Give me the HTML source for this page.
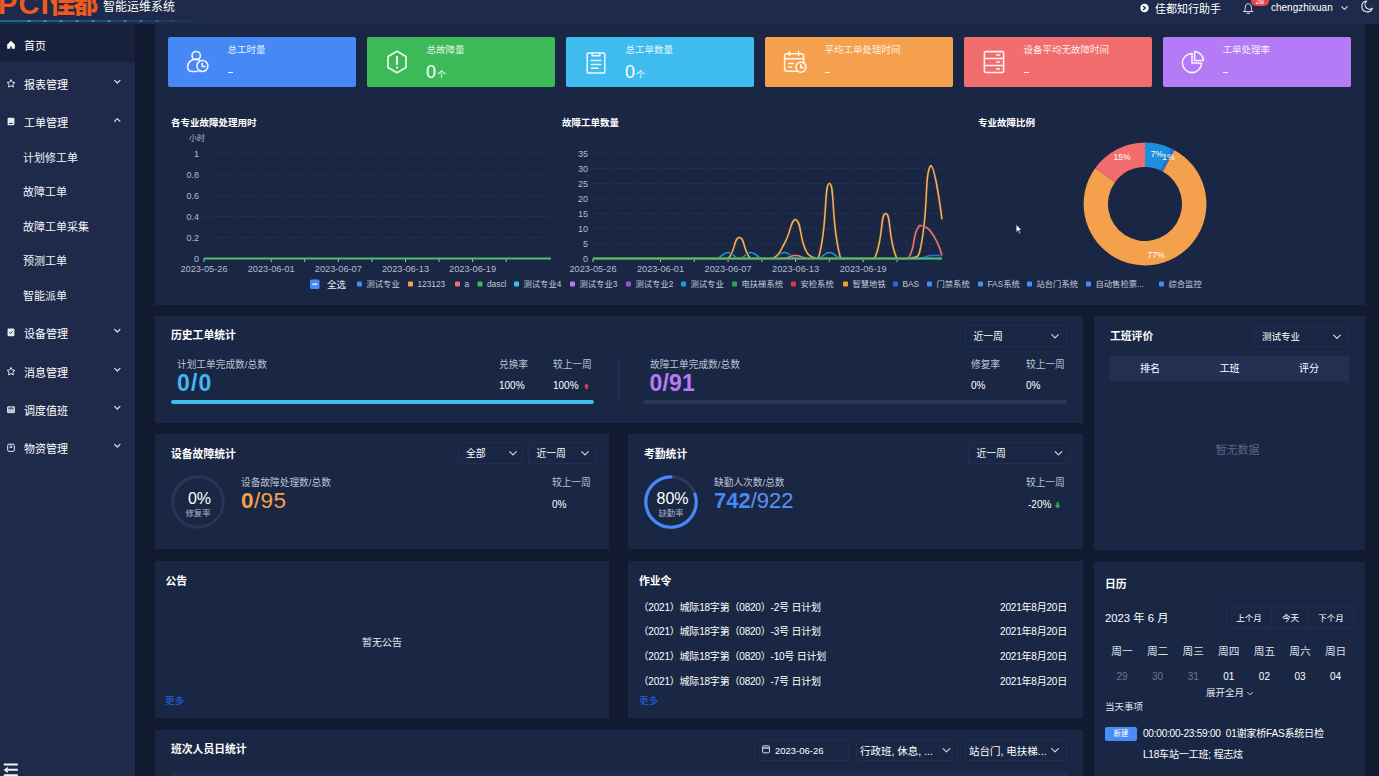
<!DOCTYPE html>
<html lang="zh-CN"><head><meta charset="utf-8"><title>智能运维系统</title>
<style>
html,body{margin:0;padding:0;background:#121a32;}
body{width:1379px;height:776px;overflow:hidden;position:relative;font-family:"Liberation Sans","Noto Sans CJK SC",sans-serif;}
#app{position:absolute;left:0;top:0;width:1379px;height:776px;overflow:hidden;}
.b{position:absolute;}
.t{position:absolute;white-space:nowrap;}
svg.ov{position:absolute;left:0;top:0;width:1379px;height:776px;pointer-events:none;}
svg text{font-family:"Liberation Sans","Noto Sans CJK SC",sans-serif;}
</style></head><body><div id="app">
<div class="b" style="left:0px;top:0px;width:1379px;height:776px;background:#121a32;"></div>
<div class="b" style="left:0px;top:0px;width:1379px;height:24px;background:#1e2a4b;"></div>
<div class="b" style="left:0px;top:24px;width:135px;height:752px;background:#1f2a4b;"></div>
<div class="b" style="left:0px;top:24px;width:135px;height:38px;background:#17203c;"></div>
<div class="b" style="left:155px;top:24px;width:1210px;height:281px;background:#1a2744;"></div>
<div class="b" style="left:155px;top:316px;width:928px;height:107.19999999999999px;background:#1a2744;"></div>
<div class="b" style="left:1094px;top:316px;width:271px;height:234px;background:#1a2744;"></div>
<div class="b" style="left:155px;top:434px;width:454px;height:115.39999999999998px;background:#1a2744;"></div>
<div class="b" style="left:628px;top:434px;width:455px;height:115.39999999999998px;background:#1a2744;"></div>
<div class="b" style="left:155px;top:561px;width:454px;height:157px;background:#1a2744;"></div>
<div class="b" style="left:628px;top:561px;width:455px;height:157px;background:#1a2744;"></div>
<div class="b" style="left:1094px;top:562px;width:271px;height:214px;background:#1a2744;"></div>
<div class="b" style="left:155px;top:730px;width:928px;height:46px;background:#1a2744;"></div>
<div class="t" style="left:-2px;top:-12px;height:32px;line-height:32px;font-size:29px;font-weight:700;color:#ee5a1f;letter-spacing:1.2px;font-family:'Liberation Sans','Noto Sans CJK SC',sans-serif;">PCI<span style="font-size:25px;letter-spacing:-1.6px;margin-left:0px;font-weight:900;position:relative;top:-1px">佳都</span></div>
<div class="t" style="top:-2.5px;height:18px;line-height:18px;font-size:12px;color:#ffffff;left:103.0px;">智能运维系统</div>
<div class="b" style="left:0;top:19.5px;width:215px;height:2.5px;background:linear-gradient(90deg,#1b7893 0%,#1b6488 30%,rgba(27,100,136,.4) 70%,rgba(27,100,136,0) 100%);opacity:.8"></div>
<div class="b" style="left:20px;top:19.5px;width:180px;height:2.5px;background:repeating-linear-gradient(90deg,rgba(70,190,215,.0) 0,rgba(70,190,215,.0) 7px,rgba(70,190,215,.55) 8px,rgba(70,190,215,.55) 10px,rgba(70,190,215,0) 11px,rgba(70,190,215,0) 16px);-webkit-mask-image:linear-gradient(90deg,#000 0,#000 55%,transparent 100%);mask-image:linear-gradient(90deg,#000 0,#000 55%,transparent 100%);"></div>
<div class="t" style="top:0.5px;height:16px;line-height:16px;font-size:11px;color:#ffffff;left:1155.0px;">佳都知行助手</div>
<div class="t" style="top:0.0px;height:16px;line-height:16px;font-size:10px;color:#ffffff;left:1271.0px;">chengzhixuan</div>
<div class="b" style="left:1250.5px;top:-4.6px;width:18.5px;height:10.5px;border-radius:5px;background:#e8454f;"></div>
<div class="t" style="top:-2.9px;height:9px;line-height:9px;font-size:7.5px;color:#ffffff;left:1249.8px;width:20px;text-align:center;">28</div>
<div class="t" style="top:37.2px;height:18px;line-height:18px;font-size:11px;color:#ffffff;left:24.0px;">首页</div>
<div class="t" style="top:75.8px;height:18px;line-height:18px;font-size:11px;color:#ffffff;left:24.0px;">报表管理</div>
<div class="t" style="top:113.8px;height:18px;line-height:18px;font-size:11px;color:#ffffff;left:24.0px;">工单管理</div>
<div class="t" style="top:324.8px;height:18px;line-height:18px;font-size:11px;color:#ffffff;left:24.0px;">设备管理</div>
<div class="t" style="top:363.8px;height:18px;line-height:18px;font-size:11px;color:#ffffff;left:24.0px;">消息管理</div>
<div class="t" style="top:401.8px;height:18px;line-height:18px;font-size:11px;color:#ffffff;left:24.0px;">调度值班</div>
<div class="t" style="top:439.8px;height:18px;line-height:18px;font-size:11px;color:#ffffff;left:24.0px;">物资管理</div>
<div class="t" style="top:148.8px;height:18px;line-height:18px;font-size:11px;color:#f2f4f8;left:23.0px;">计划修工单</div>
<div class="t" style="top:182.8px;height:18px;line-height:18px;font-size:11px;color:#f2f4f8;left:23.0px;">故障工单</div>
<div class="t" style="top:217.8px;height:18px;line-height:18px;font-size:11px;color:#f2f4f8;left:23.0px;">故障工单采集</div>
<div class="t" style="top:251.8px;height:18px;line-height:18px;font-size:11px;color:#f2f4f8;left:23.0px;">预测工单</div>
<div class="t" style="top:286.8px;height:18px;line-height:18px;font-size:11px;color:#f2f4f8;left:23.0px;">智能派单</div>
<div class="b" style="left:168px;top:37px;width:188px;height:50.400000000000006px;background:#4689f6;border-radius:2px;"></div>
<div class="t" style="top:43.0px;height:14px;line-height:14px;font-size:9.5px;color:rgba(255,255,255,.88);left:227.5px;">总工时量</div>
<div class="b" style="left:228px;top:72px;width:5px;height:1.4000000000000057px;background:rgba(255,255,255,.9);"></div>
<div class="b" style="left:367px;top:37px;width:188px;height:50.400000000000006px;background:#3dba58;border-radius:2px;"></div>
<div class="t" style="top:43.0px;height:14px;line-height:14px;font-size:9.5px;color:rgba(255,255,255,.88);left:426.5px;">总故障量</div>
<div class="t" style="top:61.5px;height:20px;line-height:20px;font-size:18px;color:#ffffff;left:426.0px;">0<span style="font-size:9px;margin-left:1px">个</span></div>
<div class="b" style="left:566px;top:37px;width:188px;height:50.400000000000006px;background:#3ebcf0;border-radius:2px;"></div>
<div class="t" style="top:43.0px;height:14px;line-height:14px;font-size:9.5px;color:rgba(255,255,255,.88);left:625.5px;">总工单数量</div>
<div class="t" style="top:61.5px;height:20px;line-height:20px;font-size:18px;color:#ffffff;left:625.0px;">0<span style="font-size:9px;margin-left:1px">个</span></div>
<div class="b" style="left:765px;top:37px;width:188px;height:50.400000000000006px;background:#f5a04d;border-radius:2px;"></div>
<div class="t" style="top:43.0px;height:14px;line-height:14px;font-size:9.5px;color:rgba(255,255,255,.88);left:824.5px;">平均工单处理时间</div>
<div class="b" style="left:825px;top:72px;width:5px;height:1.4000000000000057px;background:rgba(255,255,255,.9);"></div>
<div class="b" style="left:964px;top:37px;width:188px;height:50.400000000000006px;background:#f26e6e;border-radius:2px;"></div>
<div class="t" style="top:43.0px;height:14px;line-height:14px;font-size:9.5px;color:rgba(255,255,255,.88);left:1023.5px;">设备平均无故障时间</div>
<div class="b" style="left:1024px;top:72px;width:5px;height:1.4000000000000057px;background:rgba(255,255,255,.9);"></div>
<div class="b" style="left:1163px;top:37px;width:188px;height:50.400000000000006px;background:#b57bf7;border-radius:2px;"></div>
<div class="t" style="top:43.0px;height:14px;line-height:14px;font-size:9.5px;color:rgba(255,255,255,.88);left:1222.5px;">工单处理率</div>
<div class="b" style="left:1223px;top:72px;width:5px;height:1.4000000000000057px;background:rgba(255,255,255,.9);"></div>
<div class="t" style="top:115.0px;height:16px;line-height:16px;font-size:9.5px;color:#ffffff;font-weight:700;left:171.0px;">各专业故障处理用时</div>
<div class="t" style="top:115.0px;height:16px;line-height:16px;font-size:9.5px;color:#ffffff;font-weight:700;left:562.0px;">故障工单数量</div>
<div class="t" style="top:115.0px;height:16px;line-height:16px;font-size:9.5px;color:#ffffff;font-weight:700;left:978.0px;">专业故障比例</div>
<div class="t" style="top:325.5px;height:18px;line-height:18px;font-size:10.8px;color:#ffffff;font-weight:700;left:171.0px;">历史工单统计</div>
<div class="b" style="left:965px;top:325px;width:100px;height:20px;border:1px solid #222d51;border-radius:2px;"></div>
<div class="t" style="top:328.8px;height:16px;line-height:16px;font-size:9.8px;color:#ffffff;left:973.5px;">近一周</div>
<div class="t" style="top:358.0px;height:14px;line-height:14px;font-size:9.7px;color:#bcc3d3;left:177.0px;">计划工单完成数/总数</div>
<div class="t" style="top:370.3px;height:26px;line-height:26px;font-size:23px;color:#45b5f3;font-weight:700;left:177.0px;letter-spacing:1.2px;"><b>0</b>/<b>0</b></div>
<div class="t" style="top:358.0px;height:14px;line-height:14px;font-size:9.7px;color:#bcc3d3;left:499.0px;">兑换率</div>
<div class="t" style="top:379.0px;height:14px;line-height:14px;font-size:10px;color:#ffffff;left:499.0px;">100%</div>
<div class="t" style="top:358.0px;height:14px;line-height:14px;font-size:9.7px;color:#bcc3d3;left:553.0px;">较上一周</div>
<div class="t" style="top:379.0px;height:14px;line-height:14px;font-size:10px;color:#ffffff;left:553.0px;">100%</div>
<div class="b" style="left:171px;top:399.7px;width:423px;height:4.0px;background:#3ebcf0;border-radius:2px;"></div>
<div class="b" style="left:618px;top:357px;width:1px;height:46px;background:#27335a;"></div>
<div class="t" style="top:358.0px;height:14px;line-height:14px;font-size:9.7px;color:#bcc3d3;left:650.0px;">故障工单完成数/总数</div>
<div class="t" style="top:370.3px;height:26px;line-height:26px;font-size:23px;color:#b57bf7;font-weight:700;left:649.5px;letter-spacing:.2px;"><b>0</b>/91</div>
<div class="t" style="top:358.0px;height:14px;line-height:14px;font-size:9.7px;color:#bcc3d3;left:971.0px;">修复率</div>
<div class="t" style="top:379.0px;height:14px;line-height:14px;font-size:10px;color:#ffffff;left:971.0px;">0%</div>
<div class="t" style="top:358.0px;height:14px;line-height:14px;font-size:9.7px;color:#bcc3d3;left:1026.0px;">较上一周</div>
<div class="t" style="top:379.0px;height:14px;line-height:14px;font-size:10px;color:#ffffff;left:1026.0px;">0%</div>
<div class="b" style="left:643px;top:399.7px;width:424px;height:4.0px;background:#2b3758;border-radius:2px;"></div>
<div class="t" style="top:326.5px;height:18px;line-height:18px;font-size:10.8px;color:#ffffff;font-weight:700;left:1110.0px;">工班评价</div>
<div class="b" style="left:1254px;top:326px;width:93px;height:19px;border:1px solid #222d51;border-radius:2px;"></div>
<div class="t" style="top:329.3px;height:16px;line-height:16px;font-size:9.5px;color:#ffffff;left:1262.0px;">测试专业</div>
<div class="b" style="left:1110px;top:356px;width:239px;height:25px;background:#252f53;"></div>
<div class="t" style="top:360.5px;height:16px;line-height:16px;font-size:10px;color:#ffffff;left:1120.0px;width:60px;text-align:center;">排名</div>
<div class="t" style="top:360.5px;height:16px;line-height:16px;font-size:10px;color:#ffffff;left:1199.5px;width:60px;text-align:center;">工班</div>
<div class="t" style="top:360.5px;height:16px;line-height:16px;font-size:10px;color:#ffffff;left:1279.0px;width:60px;text-align:center;">评分</div>
<div class="t" style="top:442.0px;height:16px;line-height:16px;font-size:11px;color:#5b6582;left:1187.5px;width:100px;text-align:center;">暂无数据</div>
<div class="t" style="top:444.5px;height:18px;line-height:18px;font-size:10.8px;color:#ffffff;font-weight:700;left:171.0px;">设备故障统计</div>
<div class="b" style="left:458px;top:442px;width:63px;height:20px;border:1px solid #222d51;border-radius:2px;"></div>
<div class="t" style="top:445.8px;height:16px;line-height:16px;font-size:9.8px;color:#ffffff;left:466.0px;">全部</div>
<div class="b" style="left:528px;top:442px;width:67px;height:20px;border:1px solid #222d51;border-radius:2px;"></div>
<div class="t" style="top:445.8px;height:16px;line-height:16px;font-size:9.8px;color:#ffffff;left:536.5px;">近一周</div>
<div class="t" style="top:488.5px;height:20px;line-height:20px;font-size:16px;color:#ffffff;left:169.5px;width:60px;text-align:center;">0%</div>
<div class="t" style="top:508.0px;height:10px;line-height:10px;font-size:8.3px;color:#aab2c5;left:168.0px;width:60px;text-align:center;">修复率</div>
<div class="t" style="top:475.5px;height:14px;line-height:14px;font-size:9.7px;color:#bcc3d3;left:241.0px;">设备故障处理数/总数</div>
<div class="t" style="top:488.0px;height:26px;line-height:26px;font-size:22.5px;color:#f5a04c;font-weight:700;left:241.0px;letter-spacing:.4px;"><b>0</b><span style="font-weight:400">/95</span></div>
<div class="t" style="top:475.5px;height:14px;line-height:14px;font-size:9.7px;color:#bcc3d3;left:552.0px;">较上一周</div>
<div class="t" style="top:497.5px;height:14px;line-height:14px;font-size:10px;color:#ffffff;left:552.0px;">0%</div>
<div class="t" style="top:444.5px;height:18px;line-height:18px;font-size:10.8px;color:#ffffff;font-weight:700;left:644.0px;">考勤统计</div>
<div class="b" style="left:968px;top:442px;width:101px;height:20px;border:1px solid #222d51;border-radius:2px;"></div>
<div class="t" style="top:445.8px;height:16px;line-height:16px;font-size:9.8px;color:#ffffff;left:976.5px;">近一周</div>
<div class="t" style="top:488.5px;height:20px;line-height:20px;font-size:16px;color:#ffffff;left:642.5px;width:60px;text-align:center;">80%</div>
<div class="t" style="top:508.0px;height:10px;line-height:10px;font-size:8.3px;color:#aab2c5;left:641.0px;width:60px;text-align:center;">缺勤率</div>
<div class="t" style="top:475.5px;height:14px;line-height:14px;font-size:9.7px;color:#bcc3d3;left:714.0px;">缺勤人次数/总数</div>
<div class="t" style="top:488.0px;height:26px;line-height:26px;font-size:22px;color:#4689f6;font-weight:700;left:714.0px;letter-spacing:0px;"><b>742</b><span style="font-weight:400;color:#5b93f3">/922</span></div>
<div class="t" style="top:475.5px;height:14px;line-height:14px;font-size:9.7px;color:#bcc3d3;left:1026.0px;">较上一周</div>
<div class="t" style="top:497.5px;height:14px;line-height:14px;font-size:10px;color:#ffffff;left:1028.0px;">-20%</div>
<div class="t" style="top:571.6px;height:18px;line-height:18px;font-size:10.8px;color:#ffffff;font-weight:700;left:165.5px;">公告</div>
<div class="t" style="top:636.0px;height:14px;line-height:14px;font-size:10px;color:#e6e9f0;left:332.0px;width:100px;text-align:center;">暂无公告</div>
<div class="t" style="top:693.5px;height:14px;line-height:14px;font-size:9.5px;color:#2460e8;left:165.0px;">更多</div>
<div class="t" style="top:571.6px;height:18px;line-height:18px;font-size:10.8px;color:#ffffff;font-weight:700;left:639.0px;">作业令</div>
<div class="t" style="top:599.5px;height:16px;line-height:16px;font-size:10px;color:#ffffff;left:638.5px;letter-spacing:-.2px;">（2021）城际18字第（0820）-2号 日计划</div>
<div class="t" style="top:599.5px;height:16px;line-height:16px;font-size:10px;color:#ffffff;right:312.0px;text-align:right;letter-spacing:-.2px;">2021年8月20日</div>
<div class="t" style="top:624.0px;height:16px;line-height:16px;font-size:10px;color:#ffffff;left:638.5px;letter-spacing:-.2px;">（2021）城际18字第（0820）-3号 日计划</div>
<div class="t" style="top:624.0px;height:16px;line-height:16px;font-size:10px;color:#ffffff;right:312.0px;text-align:right;letter-spacing:-.2px;">2021年8月20日</div>
<div class="t" style="top:648.8px;height:16px;line-height:16px;font-size:10px;color:#ffffff;left:638.5px;letter-spacing:-.2px;">（2021）城际18字第（0820）-10号 日计划</div>
<div class="t" style="top:648.8px;height:16px;line-height:16px;font-size:10px;color:#ffffff;right:312.0px;text-align:right;letter-spacing:-.2px;">2021年8月20日</div>
<div class="t" style="top:673.7px;height:16px;line-height:16px;font-size:10px;color:#ffffff;left:638.5px;letter-spacing:-.2px;">（2021）城际18字第（0820）-7号 日计划</div>
<div class="t" style="top:673.7px;height:16px;line-height:16px;font-size:10px;color:#ffffff;right:312.0px;text-align:right;letter-spacing:-.2px;">2021年8月20日</div>
<div class="t" style="top:693.5px;height:14px;line-height:14px;font-size:9.5px;color:#2460e8;left:639.0px;">更多</div>
<div class="t" style="top:575.0px;height:18px;line-height:18px;font-size:10.8px;color:#ffffff;font-weight:700;left:1105.0px;">日历</div>
<div class="t" style="top:608.5px;height:18px;line-height:18px;font-size:11.3px;color:#ffffff;left:1105.0px;">2023 年 6 月</div>
<div class="b" style="left:1226px;top:606px;width:126px;height:20px;border:1px solid #222d51;border-radius:3px;"></div>
<div class="b" style="left:1271px;top:607px;width:1px;height:20px;background:#222d51;"></div>
<div class="b" style="left:1308px;top:607px;width:1px;height:20px;background:#222d51;"></div>
<div class="t" style="top:610.5px;height:14px;line-height:14px;font-size:8.5px;color:#ffffff;left:1224.0px;width:50px;text-align:center;">上个月</div>
<div class="t" style="top:610.5px;height:14px;line-height:14px;font-size:8.5px;color:#ffffff;left:1265.5px;width:50px;text-align:center;">今天</div>
<div class="t" style="top:610.5px;height:14px;line-height:14px;font-size:8.5px;color:#ffffff;left:1306.0px;width:50px;text-align:center;">下个月</div>
<div class="t" style="top:643.0px;height:16px;line-height:16px;font-size:10.7px;color:#dfe3ec;left:1102.0px;width:40px;text-align:center;">周一</div>
<div class="t" style="top:668.8px;height:16px;line-height:16px;font-size:10px;color:#6c7692;left:1102.0px;width:40px;text-align:center;">29</div>
<div class="t" style="top:643.0px;height:16px;line-height:16px;font-size:10.7px;color:#dfe3ec;left:1137.6px;width:40px;text-align:center;">周二</div>
<div class="t" style="top:668.8px;height:16px;line-height:16px;font-size:10px;color:#6c7692;left:1137.6px;width:40px;text-align:center;">30</div>
<div class="t" style="top:643.0px;height:16px;line-height:16px;font-size:10.7px;color:#dfe3ec;left:1173.2px;width:40px;text-align:center;">周三</div>
<div class="t" style="top:668.8px;height:16px;line-height:16px;font-size:10px;color:#6c7692;left:1173.2px;width:40px;text-align:center;">31</div>
<div class="t" style="top:643.0px;height:16px;line-height:16px;font-size:10.7px;color:#dfe3ec;left:1208.8px;width:40px;text-align:center;">周四</div>
<div class="t" style="top:668.8px;height:16px;line-height:16px;font-size:10px;color:#ffffff;left:1208.8px;width:40px;text-align:center;">01</div>
<div class="t" style="top:643.0px;height:16px;line-height:16px;font-size:10.7px;color:#dfe3ec;left:1244.4px;width:40px;text-align:center;">周五</div>
<div class="t" style="top:668.8px;height:16px;line-height:16px;font-size:10px;color:#ffffff;left:1244.4px;width:40px;text-align:center;">02</div>
<div class="t" style="top:643.0px;height:16px;line-height:16px;font-size:10.7px;color:#dfe3ec;left:1280.0px;width:40px;text-align:center;">周六</div>
<div class="t" style="top:668.8px;height:16px;line-height:16px;font-size:10px;color:#ffffff;left:1280.0px;width:40px;text-align:center;">03</div>
<div class="t" style="top:643.0px;height:16px;line-height:16px;font-size:10.7px;color:#dfe3ec;left:1315.6px;width:40px;text-align:center;">周日</div>
<div class="t" style="top:668.8px;height:16px;line-height:16px;font-size:10px;color:#ffffff;left:1315.6px;width:40px;text-align:center;">04</div>
<div class="t" style="top:686.0px;height:14px;line-height:14px;font-size:9.5px;color:#e6e9f0;left:1195.0px;width:60px;text-align:center;">展开全月</div>
<div class="t" style="top:700.0px;height:14px;line-height:14px;font-size:9.5px;color:#dfe3ec;left:1105.0px;">当天事项</div>
<div class="b" style="left:1105px;top:727px;width:32px;height:14px;background:#4a8cf7;border-radius:2px;"></div>
<div class="t" style="top:728.0px;height:12px;line-height:12px;font-size:7.5px;color:#ffffff;left:1105.0px;width:32px;text-align:center;">新建</div>
<div class="t" style="top:726.0px;height:16px;line-height:16px;font-size:10.1px;color:#ffffff;left:1143.0px;letter-spacing:-.25px;">00:00:00-23:59:00&nbsp; 01谢家桥FAS系统日检</div>
<div class="t" style="top:746.6px;height:16px;line-height:16px;font-size:10.1px;color:#ffffff;left:1143.0px;letter-spacing:-.25px;">L18车站一工班; 程志炫</div>
<div class="t" style="top:739.5px;height:18px;line-height:18px;font-size:10.8px;color:#ffffff;font-weight:700;left:171.0px;">班次人员日统计</div>
<div class="b" style="left:754px;top:739px;width:93px;height:20px;border:1px solid #222d51;border-radius:2px;"></div>
<div class="t" style="top:742.8px;height:16px;line-height:16px;font-size:9.5px;color:#ffffff;left:775.0px;">2023-06-26</div>
<div class="b" style="left:856px;top:739px;width:100px;height:20px;border:1px solid #222d51;border-radius:2px;"></div>
<div class="t" style="top:742.8px;height:16px;line-height:16px;font-size:10.5px;color:#ffffff;left:860.0px;">行政班, 休息, ...</div>
<div class="b" style="left:965px;top:739px;width:100px;height:20px;border:1px solid #222d51;border-radius:2px;"></div>
<div class="t" style="top:742.8px;height:16px;line-height:16px;font-size:10.5px;color:#ffffff;left:969.0px;">站台门, 电扶梯...</div>
<div class="b" style="left:171px;top:771.5px;width:896px;height:4.5px;background:#202b4d;"></div>
<svg class="ov" viewBox="0 0 1379 776">
<text x="197" y="141" font-size="8" fill="#b4bccd" text-anchor="middle">小时</text>
<text x="199" y="261.7" font-size="9" fill="#b4bccd" text-anchor="end">0</text>
<path d="M204,237.5H551" stroke="rgba(150,160,190,.13)" stroke-width="1" stroke-dasharray="3 3"/>
<text x="199" y="240.7" font-size="9" fill="#b4bccd" text-anchor="end">0.2</text>
<path d="M204,216.5H551" stroke="rgba(150,160,190,.13)" stroke-width="1" stroke-dasharray="3 3"/>
<text x="199" y="219.7" font-size="9" fill="#b4bccd" text-anchor="end">0.4</text>
<path d="M204,195.5H551" stroke="rgba(150,160,190,.13)" stroke-width="1" stroke-dasharray="3 3"/>
<text x="199" y="198.7" font-size="9" fill="#b4bccd" text-anchor="end">0.6</text>
<path d="M204,174.5H551" stroke="rgba(150,160,190,.13)" stroke-width="1" stroke-dasharray="3 3"/>
<text x="199" y="177.7" font-size="9" fill="#b4bccd" text-anchor="end">0.8</text>
<path d="M204,153.5H551" stroke="rgba(150,160,190,.13)" stroke-width="1" stroke-dasharray="3 3"/>
<text x="199" y="156.7" font-size="9" fill="#b4bccd" text-anchor="end">1</text>
<path d="M204.0,258.5v3.5" stroke="#b4bccd" stroke-width="1"/>
<path d="M271.2,258.5v3.5" stroke="#b4bccd" stroke-width="1"/>
<path d="M304.7,258.5v3.5" stroke="#b4bccd" stroke-width="1"/>
<path d="M338.3,258.5v3.5" stroke="#b4bccd" stroke-width="1"/>
<path d="M371.9,258.5v3.5" stroke="#b4bccd" stroke-width="1"/>
<path d="M405.5,258.5v3.5" stroke="#b4bccd" stroke-width="1"/>
<path d="M439.1,258.5v3.5" stroke="#b4bccd" stroke-width="1"/>
<path d="M472.6,258.5v3.5" stroke="#b4bccd" stroke-width="1"/>
<path d="M506.2,258.5v3.5" stroke="#b4bccd" stroke-width="1"/>
<text x="204.0" y="271.5" font-size="9.2" fill="#b4bccd" text-anchor="middle">2023-05-26</text>
<text x="271.2" y="271.5" font-size="9.2" fill="#b4bccd" text-anchor="middle">2023-06-01</text>
<text x="338.3" y="271.5" font-size="9.2" fill="#b4bccd" text-anchor="middle">2023-06-07</text>
<text x="405.5" y="271.5" font-size="9.2" fill="#b4bccd" text-anchor="middle">2023-06-13</text>
<text x="472.6" y="271.5" font-size="9.2" fill="#b4bccd" text-anchor="middle">2023-06-19</text>
<path d="M204,258.5H551" stroke="#4cc071" stroke-width="1.8"/>
<text x="588" y="261.7" font-size="9" fill="#b4bccd" text-anchor="end">0</text>
<path d="M593,243.5H942" stroke="rgba(150,160,190,.13)" stroke-width="1" stroke-dasharray="3 3"/>
<text x="588" y="246.7" font-size="9" fill="#b4bccd" text-anchor="end">5</text>
<path d="M593,228.5H942" stroke="rgba(150,160,190,.13)" stroke-width="1" stroke-dasharray="3 3"/>
<text x="588" y="231.7" font-size="9" fill="#b4bccd" text-anchor="end">10</text>
<path d="M593,213.5H942" stroke="rgba(150,160,190,.13)" stroke-width="1" stroke-dasharray="3 3"/>
<text x="588" y="216.7" font-size="9" fill="#b4bccd" text-anchor="end">15</text>
<path d="M593,198.5H942" stroke="rgba(150,160,190,.13)" stroke-width="1" stroke-dasharray="3 3"/>
<text x="588" y="201.7" font-size="9" fill="#b4bccd" text-anchor="end">20</text>
<path d="M593,183.5H942" stroke="rgba(150,160,190,.13)" stroke-width="1" stroke-dasharray="3 3"/>
<text x="588" y="186.7" font-size="9" fill="#b4bccd" text-anchor="end">25</text>
<path d="M593,168.5H942" stroke="rgba(150,160,190,.13)" stroke-width="1" stroke-dasharray="3 3"/>
<text x="588" y="171.7" font-size="9" fill="#b4bccd" text-anchor="end">30</text>
<path d="M593,153.5H942" stroke="rgba(150,160,190,.13)" stroke-width="1" stroke-dasharray="3 3"/>
<text x="588" y="156.7" font-size="9" fill="#b4bccd" text-anchor="end">35</text>
<path d="M593.0,258.5v3.5" stroke="#b4bccd" stroke-width="1"/>
<path d="M660.5,258.5v3.5" stroke="#b4bccd" stroke-width="1"/>
<path d="M694.3,258.5v3.5" stroke="#b4bccd" stroke-width="1"/>
<path d="M728.1,258.5v3.5" stroke="#b4bccd" stroke-width="1"/>
<path d="M761.9,258.5v3.5" stroke="#b4bccd" stroke-width="1"/>
<path d="M795.6,258.5v3.5" stroke="#b4bccd" stroke-width="1"/>
<path d="M829.4,258.5v3.5" stroke="#b4bccd" stroke-width="1"/>
<path d="M863.2,258.5v3.5" stroke="#b4bccd" stroke-width="1"/>
<path d="M897.0,258.5v3.5" stroke="#b4bccd" stroke-width="1"/>
<text x="593.0" y="271.5" font-size="9.2" fill="#b4bccd" text-anchor="middle">2023-05-26</text>
<text x="660.5" y="271.5" font-size="9.2" fill="#b4bccd" text-anchor="middle">2023-06-01</text>
<text x="728.1" y="271.5" font-size="9.2" fill="#b4bccd" text-anchor="middle">2023-06-07</text>
<text x="795.6" y="271.5" font-size="9.2" fill="#b4bccd" text-anchor="middle">2023-06-13</text>
<text x="863.2" y="271.5" font-size="9.2" fill="#b4bccd" text-anchor="middle">2023-06-19</text>
<path d="M593.0,258.5 C593.0,258.5 598.6,258.5 604.3,258.5 C609.9,258.5 609.9,258.5 615.5,258.5 C621.1,258.5 621.1,258.5 626.8,258.5 C632.4,258.5 632.4,258.5 638.0,258.5 C643.7,258.5 643.7,258.5 649.3,258.5 C654.9,258.5 654.9,258.5 660.5,258.5 C666.2,258.5 666.2,258.5 671.8,258.5 C677.4,258.5 677.4,258.5 683.1,258.5 C688.7,258.5 688.7,258.5 694.3,258.5 C700.0,258.5 700.0,258.5 705.6,258.5 C711.2,258.5 711.6,258.5 716.8,258.5 C722.8,256.9 722.5,252.5 728.1,252.5 C733.7,252.5 733.7,258.5 739.4,258.5 C745.0,258.5 745.0,252.5 750.6,252.5 C756.2,252.5 755.9,256.9 761.9,258.5 C767.1,258.5 767.9,258.5 773.1,258.5 C779.1,256.9 778.8,252.5 784.4,252.5 C790.0,252.5 789.7,256.9 795.6,258.5 C800.9,258.5 801.3,258.5 806.9,258.5 C812.5,258.5 812.9,258.5 818.2,258.5 C824.1,256.9 823.8,252.5 829.4,252.5 C835.0,252.5 834.7,256.9 840.7,258.5 C846.0,258.5 846.3,258.5 851.9,258.5 C857.6,258.5 857.6,258.5 863.2,258.5 C868.8,258.5 868.8,258.5 874.5,258.5 C880.1,258.5 880.1,258.5 885.7,258.5 C891.3,258.5 891.3,258.5 897.0,258.5 C902.6,258.5 902.6,258.5 908.2,258.5 C913.9,258.5 913.9,258.5 919.5,258.5 C925.1,258.5 925.1,258.5 930.7,258.5 C936.4,258.5 942.0,258.5 942.0,258.5" fill="none" stroke="#1e9ae0" stroke-width="1.5" stroke-linejoin="round"/>
<path d="M593.0,258.5 C593.0,258.5 598.6,258.5 604.3,258.5 C609.9,258.5 609.9,258.5 615.5,258.5 C621.1,258.5 621.1,258.5 626.8,258.5 C632.4,258.5 632.4,258.5 638.0,258.5 C643.7,258.5 643.7,258.5 649.3,258.5 C654.9,258.5 654.9,258.5 660.5,258.5 C666.2,258.5 666.2,258.5 671.8,258.5 C677.4,258.5 677.4,258.5 683.1,258.5 C688.7,258.5 688.7,258.5 694.3,258.5 C700.0,258.5 700.0,258.5 705.6,258.5 C711.2,258.5 711.2,258.5 716.8,258.5 C722.5,258.5 722.5,258.5 728.1,258.5 C733.7,258.5 733.7,258.5 739.4,258.5 C745.0,258.5 745.0,258.5 750.6,258.5 C756.2,258.5 756.2,258.5 761.9,258.5 C767.5,258.5 767.5,258.5 773.1,258.5 C778.8,258.5 778.8,258.5 784.4,258.5 C790.0,258.5 790.0,258.5 795.6,258.5 C801.3,258.5 801.3,258.5 806.9,258.5 C812.5,258.5 812.5,258.5 818.2,258.5 C823.8,258.5 823.8,258.5 829.4,258.5 C835.0,258.5 835.0,258.5 840.7,258.5 C846.3,258.5 846.3,258.5 851.9,258.5 C857.6,258.5 857.6,258.5 863.2,258.5 C868.8,258.5 868.8,258.5 874.5,258.5 C880.1,258.5 880.1,258.5 885.7,258.5 C891.3,258.5 891.3,258.5 897.0,258.5 C902.6,258.5 902.6,258.5 908.2,258.5 C913.9,258.5 914.0,258.5 919.5,258.5 C925.2,257.7 925.0,256.3 930.7,255.5 C936.3,255.5 942.0,255.5 942.0,255.5" fill="none" stroke="#2d6fe0" stroke-width="1.5" stroke-linejoin="round"/>
<path d="M593.0,258.5 C593.0,258.5 598.6,258.5 604.3,258.5 C609.9,258.5 609.9,258.5 615.5,258.5 C621.1,258.5 621.1,258.5 626.8,258.5 C632.4,258.5 632.4,258.5 638.0,258.5 C643.7,258.5 643.7,258.5 649.3,258.5 C654.9,258.5 654.9,258.5 660.5,258.5 C666.2,258.5 666.2,258.5 671.8,258.5 C677.4,258.5 677.4,258.5 683.1,258.5 C688.7,258.5 688.7,258.5 694.3,258.5 C700.0,258.5 700.0,258.5 705.6,258.5 C711.2,258.5 711.2,258.5 716.8,258.5 C722.5,258.5 722.5,258.5 728.1,258.5 C733.7,258.5 733.7,258.5 739.4,258.5 C745.0,258.5 745.0,258.5 750.6,258.5 C756.2,258.5 756.2,258.5 761.9,258.5 C767.5,258.5 767.5,258.5 773.1,258.5 C778.8,258.5 778.9,258.5 784.4,258.5 C790.1,257.7 790.0,255.5 795.6,255.5 C801.3,255.5 801.2,257.7 806.9,258.5 C812.4,258.5 812.5,258.5 818.2,258.5 C823.8,258.5 823.8,258.5 829.4,258.5 C835.0,258.5 835.0,258.5 840.7,258.5 C846.3,258.5 846.3,258.5 851.9,258.5 C857.6,258.5 857.6,258.5 863.2,258.5 C868.8,258.5 868.8,258.5 874.5,258.5 C880.1,258.5 880.1,258.5 885.7,258.5 C891.3,258.5 891.3,258.5 897.0,258.5 C902.6,258.5 905.5,258.5 908.2,258.5 C916.7,246.0 911.2,235.4 919.5,225.5 C922.5,225.5 927.1,226.6 930.7,231.5 C938.3,241.6 942.0,255.5 942.0,255.5" fill="none" stroke="#3a3326" stroke-width="3.1" stroke-linejoin="round"/><path d="M593.0,258.5 C593.0,258.5 598.6,258.5 604.3,258.5 C609.9,258.5 609.9,258.5 615.5,258.5 C621.1,258.5 621.1,258.5 626.8,258.5 C632.4,258.5 632.4,258.5 638.0,258.5 C643.7,258.5 643.7,258.5 649.3,258.5 C654.9,258.5 654.9,258.5 660.5,258.5 C666.2,258.5 666.2,258.5 671.8,258.5 C677.4,258.5 677.4,258.5 683.1,258.5 C688.7,258.5 688.7,258.5 694.3,258.5 C700.0,258.5 700.0,258.5 705.6,258.5 C711.2,258.5 711.2,258.5 716.8,258.5 C722.5,258.5 722.5,258.5 728.1,258.5 C733.7,258.5 733.7,258.5 739.4,258.5 C745.0,258.5 745.0,258.5 750.6,258.5 C756.2,258.5 756.2,258.5 761.9,258.5 C767.5,258.5 767.5,258.5 773.1,258.5 C778.8,258.5 778.9,258.5 784.4,258.5 C790.1,257.7 790.0,255.5 795.6,255.5 C801.3,255.5 801.2,257.7 806.9,258.5 C812.4,258.5 812.5,258.5 818.2,258.5 C823.8,258.5 823.8,258.5 829.4,258.5 C835.0,258.5 835.0,258.5 840.7,258.5 C846.3,258.5 846.3,258.5 851.9,258.5 C857.6,258.5 857.6,258.5 863.2,258.5 C868.8,258.5 868.8,258.5 874.5,258.5 C880.1,258.5 880.1,258.5 885.7,258.5 C891.3,258.5 891.3,258.5 897.0,258.5 C902.6,258.5 905.5,258.5 908.2,258.5 C916.7,246.0 911.2,235.4 919.5,225.5 C922.5,225.5 927.1,226.6 930.7,231.5 C938.3,241.6 942.0,255.5 942.0,255.5" fill="none" stroke="#e8718f" stroke-width="1.5" stroke-linejoin="round"/>
<path d="M593.0,258.5 C593.0,258.5 598.6,258.5 604.3,258.5 C609.9,258.5 609.9,258.5 615.5,258.5 C621.1,258.5 621.1,258.5 626.8,258.5 C632.4,258.5 632.4,258.5 638.0,258.5 C643.7,258.5 643.7,258.5 649.3,258.5 C654.9,258.5 654.9,258.5 660.5,258.5 C666.2,258.5 666.2,258.5 671.8,258.5 C677.4,258.5 677.4,258.5 683.1,258.5 C688.7,258.5 688.7,258.5 694.3,258.5 C700.0,258.5 700.0,258.5 705.6,258.5 C711.2,258.5 711.2,258.5 716.8,258.5 C722.5,258.5 724.5,258.5 728.1,258.5 C735.7,251.4 733.7,237.5 739.4,237.5 C745.0,237.5 743.0,251.4 750.6,258.5 C754.2,258.5 756.2,258.5 761.9,258.5 C767.5,258.5 768.9,258.5 773.1,258.5 C780.2,253.8 779.7,251.6 784.4,243.5 C791.0,232.1 790.8,219.5 795.6,219.5 C802.0,222.1 798.7,238.2 806.9,252.5 C809.9,257.7 816.5,258.5 818.2,258.5 C827.8,229.0 823.8,183.5 829.4,183.5 C835.0,183.5 830.9,225.8 840.7,258.5 C842.1,258.5 846.3,258.5 851.9,258.5 C857.6,258.5 857.6,258.5 863.2,258.5 C868.8,258.5 872.3,258.5 874.5,258.5 C883.5,240.4 880.1,213.5 885.7,213.5 C891.3,213.5 887.9,240.4 897.0,258.5 C899.2,258.5 902.9,258.5 908.2,258.5 C914.2,256.9 918.1,258.4 919.5,252.5 C929.3,211.9 923.8,175.6 930.7,165.5 C935.1,165.5 942.0,219.5 942.0,219.5" fill="none" stroke="#3a3326" stroke-width="3.1" stroke-linejoin="round"/><path d="M593.0,258.5 C593.0,258.5 598.6,258.5 604.3,258.5 C609.9,258.5 609.9,258.5 615.5,258.5 C621.1,258.5 621.1,258.5 626.8,258.5 C632.4,258.5 632.4,258.5 638.0,258.5 C643.7,258.5 643.7,258.5 649.3,258.5 C654.9,258.5 654.9,258.5 660.5,258.5 C666.2,258.5 666.2,258.5 671.8,258.5 C677.4,258.5 677.4,258.5 683.1,258.5 C688.7,258.5 688.7,258.5 694.3,258.5 C700.0,258.5 700.0,258.5 705.6,258.5 C711.2,258.5 711.2,258.5 716.8,258.5 C722.5,258.5 724.5,258.5 728.1,258.5 C735.7,251.4 733.7,237.5 739.4,237.5 C745.0,237.5 743.0,251.4 750.6,258.5 C754.2,258.5 756.2,258.5 761.9,258.5 C767.5,258.5 768.9,258.5 773.1,258.5 C780.2,253.8 779.7,251.6 784.4,243.5 C791.0,232.1 790.8,219.5 795.6,219.5 C802.0,222.1 798.7,238.2 806.9,252.5 C809.9,257.7 816.5,258.5 818.2,258.5 C827.8,229.0 823.8,183.5 829.4,183.5 C835.0,183.5 830.9,225.8 840.7,258.5 C842.1,258.5 846.3,258.5 851.9,258.5 C857.6,258.5 857.6,258.5 863.2,258.5 C868.8,258.5 872.3,258.5 874.5,258.5 C883.5,240.4 880.1,213.5 885.7,213.5 C891.3,213.5 887.9,240.4 897.0,258.5 C899.2,258.5 902.9,258.5 908.2,258.5 C914.2,256.9 918.1,258.4 919.5,252.5 C929.3,211.9 923.8,175.6 930.7,165.5 C935.1,165.5 942.0,219.5 942.0,219.5" fill="none" stroke="#f3b06a" stroke-width="1.5" stroke-linejoin="round"/>
<path d="M593,258.5H942" stroke="#4cc071" stroke-width="1.8"/>
<rect x="310" y="279.5" width="9.5" height="9.5" rx="1.5" fill="#4a8cf7"/><path d="M312.3,284.2h5" stroke="#fff" stroke-width="1.2"/>
<text x="327" y="287.6" font-size="9.5" fill="#e8ebf2">全选</text>
<rect x="357" y="281.6" width="5" height="5" rx="1" fill="#4a8cf7"/>
<text x="366.5" y="287" font-size="8.3" fill="#c3c9d8">测试专业</text>
<rect x="408" y="281.6" width="5" height="5" rx="1" fill="#f5a04c"/>
<text x="417.5" y="287" font-size="8.3" fill="#c3c9d8">123123</text>
<rect x="455" y="281.6" width="5" height="5" rx="1" fill="#f26d6d"/>
<text x="464.5" y="287" font-size="8.3" fill="#c3c9d8">a</text>
<rect x="477.5" y="281.6" width="5" height="5" rx="1" fill="#3dbb57"/>
<text x="487.0" y="287" font-size="8.3" fill="#c3c9d8">dascl</text>
<rect x="514" y="281.6" width="5" height="5" rx="1" fill="#3fbcf0"/>
<text x="523.5" y="287" font-size="8.3" fill="#c3c9d8">测试专业4</text>
<rect x="570" y="281.6" width="5" height="5" rx="1" fill="#b57bf7"/>
<text x="579.5" y="287" font-size="8.3" fill="#c3c9d8">测试专业3</text>
<rect x="626" y="281.6" width="5" height="5" rx="1" fill="#9254de"/>
<text x="635.5" y="287" font-size="8.3" fill="#c3c9d8">测试专业2</text>
<rect x="681" y="281.6" width="5" height="5" rx="1" fill="#1e9ae0"/>
<text x="690.5" y="287" font-size="8.3" fill="#c3c9d8">测试专业</text>
<rect x="732" y="281.6" width="5" height="5" rx="1" fill="#2ea35a"/>
<text x="741.5" y="287" font-size="8.3" fill="#c3c9d8">电扶梯系统</text>
<rect x="791" y="281.6" width="5" height="5" rx="1" fill="#e03a3a"/>
<text x="800.5" y="287" font-size="8.3" fill="#c3c9d8">安检系统</text>
<rect x="843" y="281.6" width="5" height="5" rx="1" fill="#f0a030"/>
<text x="852.5" y="287" font-size="8.3" fill="#c3c9d8">智慧地铁</text>
<rect x="893" y="281.6" width="5" height="5" rx="1" fill="#2668d8"/>
<text x="902.5" y="287" font-size="8.3" fill="#c3c9d8">BAS</text>
<rect x="927" y="281.6" width="5" height="5" rx="1" fill="#4a8cf7"/>
<text x="936.5" y="287" font-size="8.3" fill="#c3c9d8">门禁系统</text>
<rect x="978" y="281.6" width="5" height="5" rx="1" fill="#4a8cf7"/>
<text x="987.5" y="287" font-size="8.3" fill="#c3c9d8">FAS系统</text>
<rect x="1027" y="281.6" width="5" height="5" rx="1" fill="#4a8cf7"/>
<text x="1036.5" y="287" font-size="8.3" fill="#c3c9d8">站台门系统</text>
<rect x="1086" y="281.6" width="5" height="5" rx="1" fill="#4a8cf7"/>
<text x="1095.5" y="287" font-size="8.3" fill="#c3c9d8">自动售检票...</text>
<rect x="1159" y="281.6" width="5" height="5" rx="1" fill="#4a8cf7"/>
<text x="1168.5" y="287" font-size="8.3" fill="#c3c9d8">综合监控</text>
<path d="M1145.00,142.60 A61.4,61.4 0 0 1 1171.14,148.44 L1160.75,170.52 A37,37 0 0 0 1145.00,167.00 Z" fill="#1e8fdc"/>
<path d="M1171.14,148.44 A61.4,61.4 0 0 1 1174.58,150.19 L1162.82,171.58 A37,37 0 0 0 1160.75,170.52 Z" fill="#2d6fe0"/>
<path d="M1174.58,150.19 A61.4,61.4 0 1 1 1095.33,167.91 L1115.07,182.25 A37,37 0 1 0 1162.82,171.58 Z" fill="#f5a04c"/>
<path d="M1095.33,167.91 A61.4,61.4 0 0 1 1145.00,142.60 L1145.00,167.00 A37,37 0 0 0 1115.07,182.25 Z" fill="#f26e6e"/>
<text x="1157" y="156.5" font-size="8.5" fill="#ffffff" text-anchor="middle">7%</text>
<text x="1168.5" y="160" font-size="8.5" fill="#ffffff" text-anchor="middle">1%</text>
<text x="1122" y="160" font-size="8.5" fill="#ffffff" text-anchor="middle">15%</text>
<text x="1156" y="257.5" font-size="8.5" fill="#ffffff" text-anchor="middle">77%</text>
<path d="M1016.2,224.6 v7.6 l1.8,-1.7 1.3,2.9 1.1,-.5 -1.3,-2.8 h2.4 z" fill="#ffffff" stroke="#1a2744" stroke-width=".5"/>
<circle cx="1144.5" cy="8" r="4.2" fill="#ffffff"/><path d="M1143,6 l2.4,2 -2.4,2" fill="none" stroke="#1e2a4b" stroke-width="1.3"/>
<path d="M1243.8,11.6 h9 c-1.4,-1.2 -1.5,-2.6 -1.5,-4.4 c0,-2 -1.3,-3.4 -3,-3.4 c-1.7,0 -3,1.4 -3,3.4 c0,1.8 -.1,3.2 -1.5,4.4 z M1247.2,13.4 h2.2" fill="none" stroke="#e6e9f0" stroke-width="1" stroke-linejoin="round" stroke-linecap="round"/>
<path d="M1341.7,6.6 L1344.5,9.4 L1347.3,6.6" fill="none" stroke="#d5d9e4" stroke-width="1.1" stroke-linecap="round" stroke-linejoin="round"/>
<path d="M1366.8,1 a5.4,5.4 0 1 0 5.5,7.2 a4.3,4.3 0 0 1 -5.5,-7.2 z" fill="none" stroke="#e6e9f0" stroke-width="1.1" stroke-linejoin="round"/>
<path d="M114.6,80.35000000000001 L117.3,83.05 L120.0,80.35000000000001" fill="none" stroke="#d5d9e4" stroke-width="1.3" stroke-linecap="round" stroke-linejoin="round"/>
<path d="M114.6,121.35 L117.3,118.65 L120.0,121.35" fill="none" stroke="#d5d9e4" stroke-width="1.3" stroke-linecap="round" stroke-linejoin="round"/>
<path d="M114.6,329.34999999999997 L117.3,332.05 L120.0,329.34999999999997" fill="none" stroke="#d5d9e4" stroke-width="1.3" stroke-linecap="round" stroke-linejoin="round"/>
<path d="M114.6,368.34999999999997 L117.3,371.05 L120.0,368.34999999999997" fill="none" stroke="#d5d9e4" stroke-width="1.3" stroke-linecap="round" stroke-linejoin="round"/>
<path d="M114.6,406.34999999999997 L117.3,409.05 L120.0,406.34999999999997" fill="none" stroke="#d5d9e4" stroke-width="1.3" stroke-linecap="round" stroke-linejoin="round"/>
<path d="M114.6,444.34999999999997 L117.3,447.05 L120.0,444.34999999999997" fill="none" stroke="#d5d9e4" stroke-width="1.3" stroke-linecap="round" stroke-linejoin="round"/>
<path d="M7.4,44.6 L11,41 L14.6,44.6 V48.4 H12 V46.2 H10 V48.4 H7.4 Z" fill="#ffffff" stroke="#ffffff" stroke-width=".5" stroke-linejoin="round"/>
<path d="M11,79.6 l1.2,2.5 2.7,.4 -2,1.9 .5,2.7 -2.4,-1.3 -2.4,1.3 .5,-2.7 -2,-1.9 2.7,-.4 z" fill="none" stroke="#e6e9f0" stroke-width="1"/>
<rect x="7.6" y="117.8" width="6.8" height="7.4" rx="1" fill="#e6e9f0"/><path d="M9,123.4h4" stroke="#1f2b4e" stroke-width=".9"/>
<rect x="7.6" y="328.6" width="6.8" height="7.6" rx="1" fill="#e6e9f0"/><path d="M9.2,332.3l1.3,1.3 2.2,-2.4" stroke="#1f2b4e" stroke-width=".9" fill="none"/>
<path d="M11,367.4 l1.2,2.5 2.7,.4 -2,1.9 .5,2.7 -2.4,-1.3 -2.4,1.3 .5,-2.7 -2,-1.9 2.7,-.4 z" fill="none" stroke="#e6e9f0" stroke-width="1"/>
<path d="M7.6,407 h6.8 v5.6 h-6.8 z M7.6,409.2 h6.8 M9,406v1.4 M13,406v1.4" fill="none" stroke="#e6e9f0" stroke-width="1"/><path d="M8,411h6" stroke="#e6e9f0" stroke-width="1.6"/>
<rect x="7.7" y="444.2" width="6.6" height="7.2" rx="1.2" fill="none" stroke="#e6e9f0" stroke-width="1"/><path d="M9.4,447.2h3.2 M11,445.2v2" stroke="#e6e9f0" stroke-width="1"/>
<path d="M3.8,764.5h14 M7.5,769.7h10.3 M3.8,775.2h14" stroke="#f0f2f7" stroke-width="1.9" fill="none"/><path d="M7.8,766.8 L3.6,769.9 L7.8,773 z" fill="#f0f2f7"/>
<g transform="translate(198,62)" fill="none" stroke="rgba(255,255,255,.9)" stroke-width="1.55" stroke-linecap="round" stroke-linejoin="round"><circle cx="-1.8" cy="-6.4" r="4.2"/><path d="M1.6,-2 C0.6,-2.6 -0.6,-2.9 -1.8,-2.9 C-7,-2.9 -10.4,.4 -10.4,5 C-10.4,7.6 -8.8,9.4 -6,9.4 H0"/><circle cx="4.4" cy="4" r="5.5" fill="#4689f6"/><path d="M4.2,1.2 V4.4 H7"/></g>
<g transform="translate(397,62)" fill="none" stroke="rgba(255,255,255,.9)" stroke-width="1.55" stroke-linecap="round" stroke-linejoin="round"><path d="M0,-10.8 L9,-5.6 V5.6 L0,10.8 L-9,5.6 V-5.6 Z" stroke-linejoin="round" stroke-width="1.7"/><path d="M0,-5 V2" stroke-width="2.1"/><circle cx="0" cy="5.6" r="1.1" fill="#fff" stroke="none"/></g>
<g transform="translate(596,62)" fill="none" stroke="rgba(255,255,255,.9)" stroke-width="1.55" stroke-linecap="round" stroke-linejoin="round"><rect x="-8.8" y="-9" width="17.6" height="20" rx="1.2"/><path d="M-3.8,-9 V-6.2 H3.8 V-9"/><path d="M-4.6,-1.6 H4.6 M-4.6,2.4 H4.6 M-4.6,6.2 H2"/></g>
<g transform="translate(795,62)" fill="none" stroke="rgba(255,255,255,.9)" stroke-width="1.55" stroke-linecap="round" stroke-linejoin="round"><rect x="-10.4" y="-8.2" width="19" height="17.4" rx="2.2"/><path d="M-10.4,-3.2 H8.6 M-5.6,-10.4 V-6.6 M3.6,-10.4 V-6.6 M-6.4,1.4 H-1.6 M-6.4,5 H-3.4"/><circle cx="6" cy="5.2" r="5" fill="#f5a04d"/><path d="M5.8,2.8 V5.6 H8.2"/></g>
<g transform="translate(994,62)" fill="none" stroke="rgba(255,255,255,.9)" stroke-width="1.55" stroke-linecap="round" stroke-linejoin="round"><rect x="-9.6" y="-10.4" width="19.2" height="20.8" rx="1.5"/><path d="M-9.6,-3.5 H9.6 M-9.6,3.5 H9.6 M2.6,-7 H5.6 M2.6,0 H5.6 M2.6,7 H5.6"/></g>
<g transform="translate(1193,62)" fill="none" stroke="rgba(255,255,255,.9)" stroke-width="1.55" stroke-linecap="round" stroke-linejoin="round"><path d="M-1,-8.6 V1 H8.6 A9.6,9.6 0 1 1 -1,-8.6 Z"/><path d="M1.6,-10.4 A9,9 0 0 1 10.4,-1.6 H1.6 Z"/></g>
<path d="M1051.7,334.65000000000003 L1055,337.95 L1058.3,334.65000000000003" fill="none" stroke="#d5d9e4" stroke-width="1.1" stroke-linecap="round" stroke-linejoin="round"/>
<path d="M586.5,383.4 l2.6,3 h-1.6 v2.6 h-2 v-2.6 h-1.6 z" fill="#e5484d"/>
<path d="M1333.7,335.15000000000003 L1337,338.45 L1340.3,335.15000000000003" fill="none" stroke="#d5d9e4" stroke-width="1.1" stroke-linecap="round" stroke-linejoin="round"/>
<path d="M509.7,451.65000000000003 L513,454.95 L516.3,451.65000000000003" fill="none" stroke="#d5d9e4" stroke-width="1.1" stroke-linecap="round" stroke-linejoin="round"/>
<path d="M581.7,451.65000000000003 L585,454.95 L588.3,451.65000000000003" fill="none" stroke="#d5d9e4" stroke-width="1.1" stroke-linecap="round" stroke-linejoin="round"/>
<circle cx="198" cy="502" r="25.2" fill="none" stroke="#2a3556" stroke-width="3"/>
<path d="M1055.2,451.65000000000003 L1058.5,454.95 L1061.8,451.65000000000003" fill="none" stroke="#d5d9e4" stroke-width="1.1" stroke-linecap="round" stroke-linejoin="round"/>
<circle cx="671" cy="502" r="25.2" fill="none" stroke="#2e3858" stroke-width="3"/>
<path d="M694.97,494.21 A25.2,25.2 0 1 1 671,476.8" fill="none" stroke="#4689f6" stroke-width="3.2" stroke-linecap="round"/>
<path d="M1057.6,508.6 l-3,-3.3 h1.9 v-3 h2.2 v3 h1.9 z" fill="#2fb457"/>
<path d="M1247.6,692.4 L1250,694.8000000000001 L1252.4,692.4" fill="none" stroke="#c9cfdd" stroke-width="1" stroke-linecap="round" stroke-linejoin="round"/>
<rect x="762.6" y="745.8" width="6.8" height="7" rx=".8" fill="none" stroke="#d5d9e4" stroke-width="1"/><path d="M762.6,748h6.8" stroke="#d5d9e4" stroke-width="1.4"/>
<path d="M943.2,748.65 L946.5,751.9499999999999 L949.8,748.65" fill="none" stroke="#d5d9e4" stroke-width="1.1" stroke-linecap="round" stroke-linejoin="round"/>
<path d="M1051.7,748.65 L1055,751.9499999999999 L1058.3,748.65" fill="none" stroke="#d5d9e4" stroke-width="1.1" stroke-linecap="round" stroke-linejoin="round"/>
</svg>
</div></body></html>
